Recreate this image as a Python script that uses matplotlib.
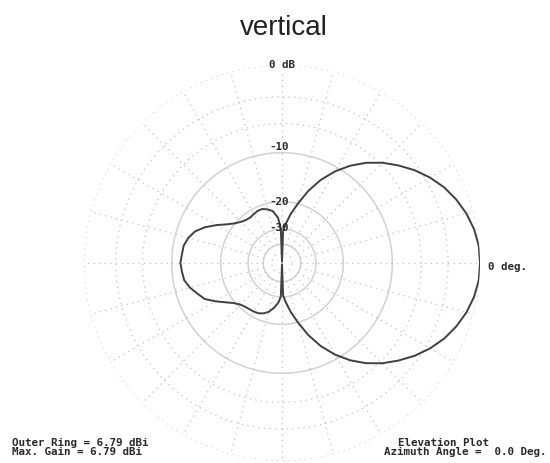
"""Elevation plot (ARRL log scale) — 'vertical'"""
import numpy as np
import matplotlib
matplotlib.use("Agg")
import matplotlib.pyplot as plt

# ── 데이터 ───────────────────────────────────────────────────────────────────
ANGLES_DEG = [0, 5, 10, 15, 20, 25, 30, 35, 40, 45, 50, 55, 60, 65, 70, 75, 80, 85, 88,
              90, 92, 95, 100, 105, 110, 115, 120, 125, 130, 135, 140, 145, 150, 155,
              160, 165, 170, 175, 180, 185, 190, 195, 200, 205, 210, 215, 220, 225,
              230, 235, 240, 245, 250, 255, 260, 265, 268, 270, 272, 275, 280, 285,
              290, 295, 300, 305, 310, 315, 320, 325, 330, 335, 340, 345, 350, 355, 360]
GAIN_DB = [0.0, -0.04, -0.26, -0.62, -1.12, -1.73, -2.52, -3.45, -4.54, -5.71, -7.09,
           -8.74, -10.73, -13.16, -16.22, -19.94, -23.63, -27.9, -30.8,
           -80.0, -29.8, -25.1, -22.6, -21.7, -21.1, -21.1, -21.4, -21.7, -21.5, -20.9,
           -19.9, -18.4, -16.4, -14.5, -13.0, -12.2, -11.7, -11.6, -11.4, -11.6, -11.8,
           -12.5, -13.5, -14.4, -16.2, -18.1, -19.7, -20.7, -21.2, -21.4, -21.5, -21.7,
           -22.3, -23.3, -25.1, -27.5, -30.2, -80.0, -30.8, -27.9, -23.63, -19.94,
           -16.22, -13.16, -10.73, -8.74, -7.09, -5.71, -4.54, -3.45, -2.52, -1.73,
           -1.12, -0.62, -0.26, -0.04, 0.0]

DOTTED_RINGS = [0, -3, -6, -50]
SOLID_RINGS = [-10, -20, -30, -40]
RING_LABELS = ["-10", "-20", "-30"]
SPOKES_DEG = list(range(0, 360, 15))

_LINE = "#404040"
_GRID = "#c2c2c2"
_RING = "#d2d2d2"
_TEXT = "#2a2a2a"
_MONO = dict(family="DejaVu Sans Mono", fontweight="bold", fontsize=7.8, color=_TEXT)


# ARRL log scale: 2 dB 마다 반지름 0.89배
def _fwd(db):
    return 0.89 ** (-np.asarray(db, dtype=float) / 2.0)


def _inv(r):
    return -2.0 * np.log(np.maximum(np.asarray(r, dtype=float), 1e-12)) / np.log(0.89)


W, H = 550, 463
CX, CY, R = 282, 263, 198

fig = plt.figure(figsize=(W / 100, H / 100), dpi=100, facecolor="white")
ax = fig.add_axes([(CX - R) / W, (H - CY - R) / H, 2 * R / W, 2 * R / H],
                  projection="polar")
ax.set_yscale("function", functions=(_fwd, _inv))
ax.set_ylim(-100, 0)
ax.set_xticks([])
ax.set_yticks([])
ax.grid(False)
ax.spines["polar"].set_visible(False)
ax.set_facecolor("none")

th = np.linspace(0, 2 * np.pi, 721)
for db in DOTTED_RINGS:
    ax.plot(th, np.full_like(th, db), color=_GRID, lw=0.9, ls=(0, (1, 3.5)), zorder=1)
for db in SOLID_RINGS:
    ax.plot(th, np.full_like(th, db), color=_RING, lw=1.1, zorder=1)
for a in SPOKES_DEG:
    ax.plot([np.radians(a)] * 2, [-40, 0], color=_GRID, lw=0.9, ls=(0, (1, 3.5)), zorder=1)

# 패턴
ax.plot(np.radians(ANGLES_DEG), GAIN_DB, color=_LINE, lw=1.4, zorder=3)

# 링 라벨
ax.text(np.radians(90), 0, "0 dB", ha="center", va="center", zorder=4,
        bbox=dict(facecolor="white", edgecolor="none", pad=0.5), **_MONO)
for lab, dy in zip(RING_LABELS, (4, 0, 1)):
    ax.annotate(lab, (np.radians(90), float(lab)), xytext=(-2, dy), textcoords="offset points",
                ha="center", va="center", zorder=4, **_MONO)
ax.annotate("0 deg.", (0, 0), xytext=(6, -3), textcoords="offset points",
            ha="left", va="center", zorder=4, **_MONO)

# 하단 정보
fig.text(12 / W, 1 - 443 / H, "Outer Ring = 6.79 dBi", ha="left", va="center", **_MONO)
fig.text(12 / W, 1 - 452 / H, "Max. Gain = 6.79 dBi", ha="left", va="center", **_MONO)
fig.text(443 / W, 1 - 443 / H, "Elevation Plot", ha="center", va="center", **_MONO)
fig.text(547 / W, 1 - 452 / H, "Azimuth Angle =  0.0 Deg.", ha="right", va="center", **_MONO)

fig.text(284 / W, 1 - 35 / H, "vertical", ha="center", va="baseline",
         family="Liberation Sans", fontsize=20, color="#222222")

fig.savefig("out.png", dpi=100, facecolor="white")
